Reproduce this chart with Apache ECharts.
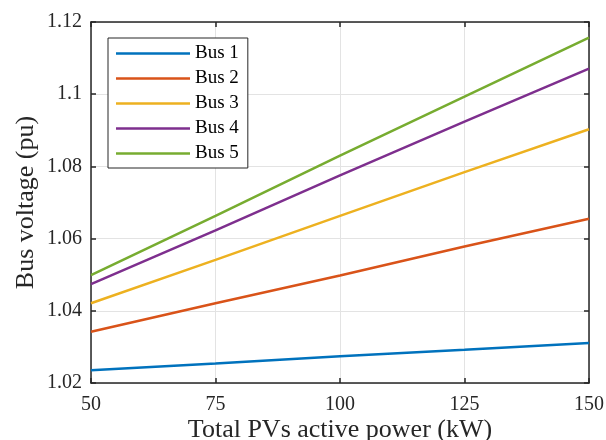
<!DOCTYPE html>
<html>
<head>
<meta charset="utf-8">
<script src="https://cdn.jsdelivr.net/npm/echarts@6/dist/echarts.min.js"></script>
<style>
  html, body { margin: 0; padding: 0; background: #fff; }
  #chart { width: 606px; height: 440px; }
</style>
</head>
<body>
<div id="chart"></div>
<script>
// Total PV active power (kW) at which bus voltages were evaluated
const pvPower = [50, 75, 100, 125, 150];

// Bus voltages (pu)
const bus1 = [1.0235, 1.0254, 1.0274, 1.0292, 1.0311];
const bus2 = [1.0342, 1.0421, 1.0498, 1.0578, 1.0655];
const bus3 = [1.0421, 1.0541, 1.0663, 1.0784, 1.0903];
const bus4 = [1.0474, 1.0623, 1.0775, 1.0924, 1.1071];
const bus5 = [1.0499, 1.0663, 1.0830, 1.0993, 1.1157];

const seriesNames = ['Bus 1', 'Bus 2', 'Bus 3', 'Bus 4', 'Bus 5'];
const seriesValues = [bus1, bus2, bus3, bus4, bus5];
const colors = ['#0072BD', '#D95319', '#EDB120', '#7E2F8E', '#77AC30'];

const font = 'Liberation Serif, Times New Roman, serif';
const axisColor = '#262626';

const chart = echarts.init(document.getElementById('chart'), null, { renderer: 'canvas' });

const baseX = {
  type: 'value', min: 50, max: 150, interval: 25,
  axisLine: { show: true, onZero: false, lineStyle: { color: axisColor, width: 1.5 } },
  axisTick: { show: true, inside: true, length: 5, lineStyle: { color: axisColor, width: 1.5 } }
};
const baseY = {
  type: 'value', min: 1.02, max: 1.12, interval: 0.02,
  axisLine: { show: true, onZero: false, lineStyle: { color: axisColor, width: 1.5 } },
  axisTick: { show: true, inside: true, length: 5, lineStyle: { color: axisColor, width: 1.5 } }
};

chart.setOption({
  backgroundColor: '#fff',
  animation: false,
  grid: { left: 91, right: 17, top: 22, bottom: 57, containLabel: false, outerBoundsMode: 'none' },
  legend: {
    orient: 'vertical',
    left: 108, top: 38,
    padding: [6, 9, 5, 8],
    itemWidth: 74, itemHeight: 14, itemGap: 6,
    icon: 'path://M0,0H74V2.5H0Z',
    symbolKeepAspect: true,
    backgroundColor: '#fff',
    borderColor: axisColor, borderWidth: 1, borderRadius: 0,
    textStyle: { fontFamily: font, fontSize: 19, lineHeight: 19, color: '#000' },
    data: seriesNames
  },
  xAxis: [
    Object.assign({}, baseX, {
      position: 'bottom',
      name: 'Total PVs active power (kW)',
      nameLocation: 'middle', nameGap: 34, nameMoveOverlap: false,
      nameTextStyle: { fontFamily: font, fontSize: 26, color: axisColor },
      axisLabel: { fontFamily: font, fontSize: 20, color: axisColor, margin: 12 },
      splitLine: { show: true, lineStyle: { color: '#e3e3e3', width: 1 } }
    }),
    Object.assign({}, baseX, {
      position: 'top',
      axisLabel: { show: false },
      splitLine: { show: false }
    })
  ],
  yAxis: [
    Object.assign({}, baseY, {
      position: 'left',
      name: 'Bus voltage (pu)',
      nameLocation: 'middle', nameGap: 52, nameMoveOverlap: false,
      nameTextStyle: { fontFamily: font, fontSize: 26, color: axisColor },
      axisLabel: {
        fontFamily: font, fontSize: 20, color: axisColor, margin: 9,
        formatter: v => String(parseFloat(v.toFixed(2)))
      },
      splitLine: { show: true, lineStyle: { color: '#e3e3e3', width: 1 } }
    }),
    Object.assign({}, baseY, {
      position: 'right',
      axisLabel: { show: false },
      splitLine: { show: false }
    })
  ],
  series: seriesNames.map((name, i) => ({
    name: name,
    type: 'line',
    xAxisIndex: 0, yAxisIndex: 0,
    symbol: 'none',
    smooth: false,
    color: colors[i],
    lineStyle: { color: colors[i], width: 2.5 },
    data: pvPower.map((x, j) => [x, seriesValues[i][j]])
  }))
});
</script>
</body>
</html>
